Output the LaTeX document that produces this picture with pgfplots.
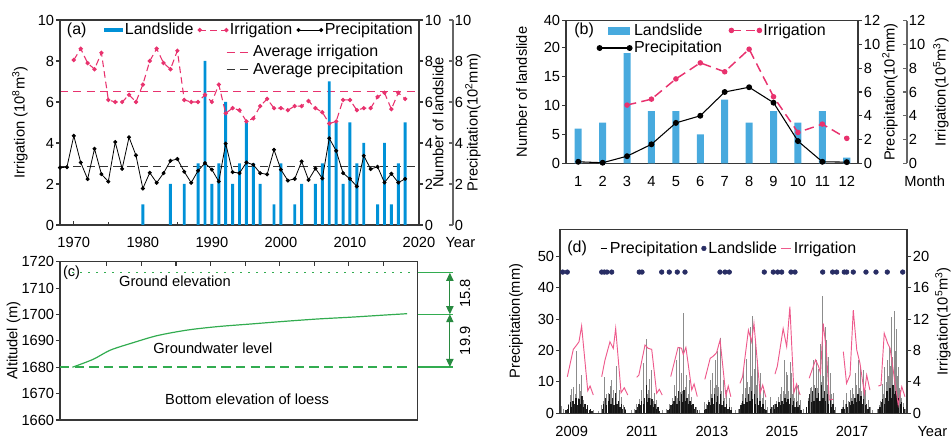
\documentclass[border=0pt]{standalone}
\usepackage{fontspec}
\setmainfont{Liberation Sans}
\usepackage{pgfplots}
\pgfplotsset{compat=1.18}
\usetikzlibrary{arrows.meta}

\definecolor{axgray}{RGB}{55,55,55}
\definecolor{lsblue}{RGB}{0,145,215}
\definecolor{lsblue2}{RGB}{72,170,222}
\definecolor{irr}{RGB}{232,50,110}
\definecolor{irrd}{RGB}{238,90,140}
\definecolor{gcol}{RGB}{50,172,80}
\definecolor{navy}{RGB}{40,45,100}

\newcommand{\tfont}{\fontsize{11}{13}\selectfont}
\newcommand{\lfont}{\fontsize{12}{14}\selectfont}

\pgfplotsset{
  base/.style={
    scale only axis, anchor=south west, clip=false,
    /pgf/number format/assume math mode=true,
    /pgf/number format/1000 sep={},
    tick label style={font=\tfont},
    label style={font=\tfont},
    axis line style={draw=axgray, line width=0.8pt},
    tick style={draw=axgray, line width=0.8pt},
    major tick length=3pt, minor tick length=2pt,
    tick align=outside,
    yticklabel style={inner sep=1.2pt},
    xticklabel style={yshift=-3pt},
    legend style={font=\lfont, draw=none, fill=none, inner sep=0pt, nodes={inner sep=1.5pt}},
    legend cell align=left,
  },
  ylab/.style={ylabel style={at={(rel axis cs:#1,0.5)}, anchor=center, rotate=0}},
  ptlegend/.style={legend image code/.code={\draw[##1,mark repeat=1] plot coordinates {(0pt,0pt) (#1,0pt)};}},
  linelegend/.style={legend image code/.code={\draw[##1] (0pt,0pt) -- (#1,0pt);}},
  dotlegend/.style={legend image code/.code={\fill[navy] (1.8pt,0pt) circle (1.75pt);}},
  barAlegend/.style={legend image code/.code={\fill[lsblue] (0pt,-1.6pt) rectangle (14pt,1.6pt);}},
  barBlegend/.style={legend image code/.code={\path (0pt,0pt); \fill[lsblue2] (6.5pt,-2.5pt) rectangle (22.5pt,2.5pt);}},
}

\begin{document}
\begin{tikzpicture}
\path[use as bounding box] (0,0) rectangle (714pt,331.5pt);

% ---------------- (a) ----------------
\begin{axis}[base, at={(45pt,162.75pt)}, width=269.25pt, height=153.75pt,
  xmin=1968, xmax=2020, ymin=0, ymax=10, hide axis,
  legend style={at={(0.462,0.80)}, anchor=west}]
\addplot[irr, line width=0.8pt, dash pattern=on 6pt off 4pt, linelegend=18pt]
  coordinates {(1968,6.5) (2020,6.5)};
\addlegendentry{Average irrigation}
\addplot[black!80, line width=0.8pt, dash pattern=on 6pt off 4pt, linelegend=18pt]
  coordinates {(1968,2.85) (2020,2.85)};
\addlegendentry{Average precipitation}
\end{axis}

\begin{axis}[base, at={(45pt,162.75pt)}, width=269.25pt, height=153.75pt,
  xmin=1968, xmax=2020, ymin=0, ymax=10,
  xtick={1970,1980,...,2020}, minor xtick={1975,1985,...,2015},
  ytick={0,2,...,10}, xtick pos=left, ytick pos=left,
  every major x tick/.append style={yshift=3pt},
  every minor x tick/.append style={yshift=2pt},
  ylabel={Irrigation (10\textsuperscript{8}m\textsuperscript{3})}, ylab=-0.1114,
  legend columns=3,
  legend style={at={(0.1226,0.951)}, anchor=west,
    /tikz/every even column/.append style={column sep=2pt}}]
\addplot[ybar, bar width=2.2pt, fill=lsblue, draw=none, barAlegend]
  coordinates {(1980,1)(1984,2)(1986,2)(1988,3)(1989,8)(1990,2)(1991,3)(1992,6)
  (1993,2)(1994,3)(1995,5)(1996,3)(1997,2)(1999,1)(2000,3)(2002,1)(2003,2)(2005,2)
  (2006,3)(2007,7)(2008,5)(2009,2)(2010,5)(2011,3)(2012,4)(2014,1)(2015,4)(2016,1)
  (2017,3)(2018,5)};
\addlegendentry{Landslide}
\addplot[irr, line width=0.8pt, dash pattern=on 5pt off 3pt, mark=*, mark size=1.2pt,
  mark options={solid}, ptlegend=20pt]
  coordinates {(1970,8.05)(1971,8.6)(1972,7.9)(1973,7.6)(1974,8.4)(1975,6.1)(1976,6.0)
  (1977,6.0)(1978,6.35)(1979,6.0)(1980,6.85)(1981,8.0)(1982,8.6)(1983,7.9)(1984,7.6)
  (1985,8.5)(1986,6.1)(1987,6.0)(1988,6.0)(1989,6.35)(1990,6.0)(1991,6.85)(1992,5.45)
  (1993,5.7)(1994,5.6)(1995,5.05)(1996,5.2)(1997,5.8)(1998,6.15)(1999,5.7)(2000,5.7)
  (2001,5.6)(2002,5.8)(2003,5.8)(2004,6.05)(2005,5.7)(2006,5.5)(2007,4.95)(2008,5.05)
  (2009,6.1)(2010,6.1)(2011,5.6)(2012,5.7)(2013,5.7)(2014,6.25)(2015,6.45)(2016,5.65)
  (2017,6.45)(2018,6.15)};
\addlegendentry{Irrigation}
\addplot[black, line width=0.6pt, mark=*, mark size=1.2pt, ptlegend=17pt]
  coordinates {(1968,2.8)(1969,2.82)(1970,4.35)(1971,3.05)(1972,2.24)(1973,3.72)
  (1974,2.48)(1975,2.12)(1976,4.05)(1977,2.74)(1978,4.28)(1979,3.4)(1980,1.78)
  (1981,2.55)(1982,2.06)(1983,2.53)(1984,3.13)(1985,3.22)(1986,2.6)(1987,2.06)
  (1988,2.65)(1989,3.02)(1990,2.7)(1991,2.12)(1992,3.97)(1993,2.58)(1994,2.53)
  (1995,3.05)(1996,2.94)(1997,2.53)(1998,2.47)(1999,3.67)(2000,2.7)(2001,2.17)
  (2002,2.25)(2003,3.1)(2004,2.2)(2005,2.76)(2006,2.27)(2007,4.23)(2008,3.62)
  (2009,2.53)(2010,2.25)(2011,1.88)(2012,3.38)(2013,2.73)(2014,2.84)(2015,2.07)
  (2016,2.5)(2017,2.07)(2018,2.25)};
\addlegendentry{Precipitation}
\node[anchor=west, font=\lfont, inner sep=0pt] at (axis cs:1968.97,9.51) {(a)};
\node[anchor=north, font=\tfont] at (rel axis cs:1,0) [xshift=31pt, yshift=-6pt] {Year};
\end{axis}

\begin{axis}[base, at={(45pt,162.75pt)}, width=269.25pt, height=153.75pt,
  xmin=1968, xmax=2020, ymin=0, ymax=10,
  axis y line*=right, axis x line=none, ytick pos=right, yticklabel pos=right,
  ytick={0,2,...,10}, ylabel={Number of landslide}, ylab=1.053]
\end{axis}

\begin{axis}[base, at={(314.25pt,162.75pt)}, width=25.5pt, height=153.75pt,
  xmin=0, xmax=1, ymin=0, ymax=10, tick align=inside,
  axis y line*=right, axis x line=none, ytick pos=right, yticklabel pos=right,
  ytick={0,2,...,10},
  axis line style={draw=black!60}, tick style={draw=black!60},
  ylabel={Precipitation(10\textsuperscript{2}mm)}, ylab=1.588]
\end{axis}

% ---------------- (b) ----------------
\begin{axis}[base, at={(424.5pt,209pt)}, width=219pt, height=107pt,
  xmin=0.5, xmax=12.46, ymin=0, ymax=24.6,
  xtick={1,...,12}, ytick={0,5,10,15,20,24.6}, yticklabels={0,5,10,15,20,40},
  xtick pos=left, ytick pos=left,
  every major x tick/.append style={draw=none},
  ylabel={Number of landslide}, ylab=-0.1517]
\addplot[ybar, bar width=5.3pt, fill=lsblue2, draw=none]
  coordinates {(1,6)(2,7)(3,19)(4,9)(5,9)(6,5)(7,11)(8,7)(9,9)(10,7)(11,9)(12,1)};
\node[anchor=west, font=\lfont, inner sep=0pt] at (axis cs:0.83,23.0) {(b)};
\node[anchor=north, font=\tfont] at (rel axis cs:1,0) [xshift=50pt, yshift=-6pt] {Month};
\end{axis}

\begin{axis}[base, at={(424.5pt,209pt)}, width=219pt, height=107pt,
  xmin=0.5, xmax=12.46, ymin=0, ymax=12,
  axis y line*=right, axis x line=none, ytick pos=right, yticklabel pos=right,
  ytick={0,2,...,12},
  ylabel={Precipitation(10\textsuperscript{2}mm)}, ylab=1.1096,
  legend columns=2,
  legend style={at={(0.106,0.995)}, anchor=north west,
    /tikz/every even column/.append style={column sep=4pt}}]
\addlegendimage{barBlegend}
\addlegendentry{Landslide}
\addplot[irr, line width=1.1pt, dash pattern=on 7pt off 4pt, mark=*, mark size=1.5pt,
  mark options={solid}, ptlegend=21pt]
  coordinates {(3,4.9)(4,5.4)(5,7.1)(6,8.45)(7,7.7)(8,9.6)(9,5.6)(10,2.6)(11,3.3)(12,2.1)};
\addlegendentry{Irrigation}
\addplot[black, line width=0.8pt, mark=*, mark size=1.8pt, ptlegend=22.5pt]
  coordinates {(1,0.13)(2,0.05)(3,0.6)(4,1.6)(5,3.4)(6,4.0)(7,6.0)(8,6.4)(9,5.1)
  (10,1.87)(11,0.13)(12,0.1)};
\addlegendentry{Precipitation}
\end{axis}

\begin{axis}[base, at={(643.5pt,209pt)}, width=36.75pt, height=107pt,
  xmin=0, xmax=1, ymin=0, ymax=12, tick align=inside,
  axis y line*=right, axis x line=none, ytick pos=right, yticklabel pos=right,
  ytick={0,2,...,12},
  axis line style={draw=black!60}, tick style={draw=black!60},
  ylabel={Irrigation(10\textsuperscript{5}m\textsuperscript{3})}, ylab=1.694]
\end{axis}

% ---------------- (c) ----------------
\begin{axis}[base, at={(45pt,16.5pt)}, width=268.3pt, height=118.7pt,
  xmin=-0.36, xmax=10, ymin=1660, ymax=1720,
  xtick={1,...,9}, xticklabels={}, xtick pos=right,
  every major x tick/.append style={yshift=-3pt},
  ytick={1660,1670,...,1720}, ytick pos=left,
  ylabel={Altitudel (m)}, ylab=-0.1300]
\addplot[gcol, line width=1pt, dash pattern=on 1.5pt off 4.5pt]
  coordinates {(0,1715.8) (9.88,1715.8)};
\addplot[gcol, line width=0.8pt, dash pattern=on 7pt off 4pt]
  coordinates {(-0.36,1680.1) (9.69,1680.1)};
\addplot[gcol, line width=0.9pt, smooth]
  coordinates {(0,1680.0)(0.6,1683)(1.1,1686.5)(1.78,1689.4)(2.46,1692)(3.33,1694.1)
  (4.2,1695.4)(5.17,1696.4)(6.14,1697.4)(7.11,1698.3)(8.09,1699.0)(9.06,1699.8)(9.69,1700.3)};
\addplot[gcol, line width=0.8pt] coordinates {(10,1715.8) (11.03,1715.8)};
\addplot[gcol, line width=0.8pt] coordinates {(10,1700.1) (11.03,1700.1)};
\addplot[gcol, line width=0.8pt] coordinates {(10,1680.1) (11.03,1680.1)};
\addplot[gcol!80!black, line width=0.8pt,
  {Triangle[length=6pt,width=5.5pt]}-{Triangle[length=6pt,width=5.5pt]}]
  coordinates {(10.93,1715.8) (10.93,1700.1)};
\addplot[gcol!80!black, line width=0.8pt,
  {Triangle[length=6pt,width=5.5pt]}-{Triangle[length=6pt,width=5.5pt]}]
  coordinates {(10.93,1700.1) (10.93,1680.1)};
\node[font=\tfont, rotate=90] at (axis cs:11.37,1708) {15.8};
\node[font=\tfont, rotate=90] at (axis cs:11.37,1690) {19.9};
\node[anchor=west, font=\tfont, inner sep=0pt] at (axis cs:-0.28,1715.7) {(c)};
\node[font=\tfont] at (axis cs:2.97,1712.7) {Ground elevation};
\node[font=\tfont] at (axis cs:4.07,1687.3) {Groundwater level};
\node[font=\tfont] at (axis cs:5.06,1668) {Bottom elevation of loess};
\end{axis}

% ---------------- (d) ----------------
\begin{axis}[base, at={(420pt,21.5pt)}, width=260.25pt, height=138.2pt,
  xmin=-4, xmax=114.8, ymin=0, ymax=58.7,
  xtick={0,24,48,72,96}, xticklabels={2009,2011,2013,2015,2017},
  xtick pos=left, ytick pos=left, every major x tick/.append style={draw=none},
  ytick={0,10,...,50}, ylabel={Precipitation(mm)}, ylab=-0.1268]
% daily precipitation, larger events
\addplot[ycomb, black, opacity=0.45, line width=0.55pt]
  coordinates {(-3.6,2.2)(-2.9,1.5)(-1.2,3)(-0.6,5.8)(0,7.6)(0.56,8.5)(1.1,6)(1.7,20)
  (2.2,5)(2.6,9.5)(3.0,7)(3.4,12.2)(4.0,4.2)(4.6,3)(5.3,2)(6.5,1.5)(7.5,1)(9.0,0.8)
  (10.2,2.5)(10.8,4)(11.3,11.5)(11.8,6)(12.5,6.4)(13.0,4.5)(13.4,8.7)(13.7,10.6)(14.2,7.4)
  (14.8,5)(15.2,15.1)(15.9,4)(16.3,7.4)(17.1,5.3)(17.6,2.5)(18.5,1.5)(20.5,1.0)
  (21.5,1.5)(22.3,3)(23.0,4.5)(23.9,7.4)(24.4,5)(24.7,16)(25.4,23.8)(25.8,6)(26.2,7.4)
  (26.6,11)(27.0,5)(27.4,13.8)(27.9,4)(28.2,6.4)(29.1,4.2)(29.8,2)(31,1)
  (32.5,1.5)(33.5,3)(34.3,5)(35.1,9)(35.9,17)(36.3,5)(36.7,21)(37.1,6.9)(37.4,12.7)
  (37.8,7)(38.2,32)(38.8,8.5)(39.4,12.2)(39.9,6)(40.3,10.6)(40.8,4)(41.1,5.3)(41.8,3)
  (42.8,2)(43.8,1.2)(45.4,3.7)
  (46.2,3)(46.8,4.2)(47.4,10.6)(47.9,6)(48.3,12.7)(48.7,8)(49.1,17)(49.5,9)(49.9,20)
  (50.2,8.5)(50.8,24)(51.3,7)(51.9,10.6)(52.4,5)(53.1,7.4)(54.0,4.8)(54.8,2)(56,1)
  (57,1.5)(58,3.2)(58.5,6)(58.9,13.8)(59.4,8)(59.9,17.2)(60.3,10)(60.7,8.5)(61.1,27.6)
  (61.5,12)(62.0,31)(62.4,14)(62.8,22.3)(63.2,9)(63.7,17)(64.2,8)(64.7,12.7)(65.2,5)
  (65.6,7.4)(66.2,4.2)(67,2)
  (67.9,5.3)(68.6,2)(69.3,3)(70.0,4)(70.7,5.3)(71.3,6)(71.9,8.5)(72.4,7)(72.8,17)
  (73.1,6)(73.4,13.1)(73.8,12.2)(74.2,7)(74.7,16.5)(75.3,12.7)(75.7,6)(76.0,10)(76.4,5)
  (76.8,9)(77.2,4)(77.6,9)(78.4,4.2)(79.2,1.5)
  (80.5,2)(81.1,5)(81.6,8)(82.1,8.5)(82.7,17)(83.2,9)(83.8,17)(84.2,8)(84.6,14)(85.0,22)
  (85.5,10)(85.9,37.4)(86.3,12)(86.7,27.6)(87.1,23.3)(87.5,9)(87.9,18)(88.4,12.7)
  (88.9,6)(89.6,6.4)(90.4,2)
  (92.5,2)(93.0,4.2)(93.6,3)(94.1,6.4)(94.7,4)(95.3,7.4)(95.8,5)(96.2,8)(96.6,6)(97.0,12.7)
  (97.5,9)(98.1,17)(98.5,8)(98.9,14.8)(99.3,7)(99.8,13.8)(100.3,6)(100.7,7.4)(101.5,4.2)
  (102.2,2)(103,1)
  (104.5,1.5)(105.2,2.5)(105.8,4)(106.4,9.5)(106.8,6)(107.2,14.8)(107.6,10)(108.0,17)
  (108.4,12)(108.7,21)(109.1,15)(109.5,30.8)(109.9,18)(110.3,32.7)(110.7,20)(111.2,27)
  (111.5,12)(111.8,14.8)(112.2,8)(112.6,7.4)(113.0,5)(113.5,3.2)(114.2,1.5)};
% daily precipitation, dense small events
\addplot[ycomb, black, opacity=0.85, line width=1pt]
  coordinates {(-2.0,1)(-1.5,1.5)(-1.0,2.5)(-0.5,3.5)(0.0,2)(0.5,4)(1.0,3)(1.5,5)(2.0,2.5)
  (2.5,4.5)(3.0,3)(3.5,5.5)(4.0,2)(4.5,3)(5.0,1.5)(5.5,2.5)(6.0,1)(6.5,1.5)(7.0,0.8)
  (10.5,1.5)(11.0,3)(11.5,5)(12.0,2.5)(12.5,4)(13.0,6)(13.5,3)(14.0,5)(14.5,2.5)(15.0,6.5)
  (15.5,3)(16.0,4)(16.5,2)(17.0,3)(17.5,1.5)(18.0,2)(18.5,1)
  (22.0,1)(22.5,2)(23.0,3)(23.5,2.5)(24.0,4)(24.5,3)(25.0,5)(25.5,9)(26.0,3.5)(26.5,5)
  (27.0,2.5)(27.5,4.5)(28.0,2)(28.5,3)(29.0,1.5)(29.5,2)(30.0,0.8)
  (33.0,1)(33.5,1.5)(34.0,2.5)(34.5,3)(35.0,4)(35.5,5.5)(36.0,3)(36.5,7)(37.0,4)(37.5,6)
  (38.0,3.5)(38.5,7.5)(39.0,4)(39.5,5)(40.0,3)(40.5,4)(41.0,2.5)(41.5,3)(42.0,1.5)
  (42.5,2)(43.0,1)
  (45.5,1)(46.0,1.5)(46.5,2.5)(47.0,3.5)(47.5,2.5)(48.0,5)(48.5,3)(49.0,6)(49.5,3.5)
  (50.0,5.5)(50.5,3)(51.0,6)(51.5,2.5)(52.0,4)(52.5,2)(53.0,3)(53.5,1.5)(54.0,2)(54.5,1)
  (57.5,1.5)(58.0,2.5)(58.5,4)(59.0,3)(59.5,5)(60.0,3.5)(60.5,6)(61.0,4)(61.5,7)(62.0,4.5)
  (62.5,6)(63.0,3)(63.5,5)(64.0,2.5)(64.5,4)(65.0,2)(65.5,3)(66.0,1.5)(66.5,1)
  (68.0,1.5)(68.5,2)(69.0,2.5)(69.5,1.5)(70.0,3)(70.5,2)(71.0,3.5)(71.5,2.5)(72.0,4)
  (72.5,3)(73.0,5)(73.5,3.5)(74.0,4.5)(74.5,3)(75.0,5)(75.5,2.5)(76.0,4)(76.5,2)(77.0,3.5)
  (77.5,2)(78.0,2.5)(78.5,1)
  (80.5,2)(81.0,4)(81.5,6)(82.0,3.5)(82.5,7)(83.0,4)(83.5,8)(84.0,5)(84.5,6.5)(85.0,4)
  (85.5,9)(86.0,5)(86.5,7)(87.0,4)(87.5,6)(88.0,3)(88.5,4.5)(89.0,2)(89.5,3)(90.0,1)
  (92.5,1.5)(93.0,2)(93.5,1.5)(94.0,3)(94.5,2)(95.0,3.5)(95.5,2.5)(96.0,4)(96.5,3)(97.0,5)
  (97.5,3.5)(98.0,6)(98.5,4)(99.0,5.5)(99.5,3)(100.0,4.5)(100.5,2.5)(101.0,3)(101.5,1.5)
  (102.0,2)
  (105.0,1.5)(105.5,2)(106.0,3.5)(106.5,4.5)(107.0,3)(107.5,5)(108.0,7)(108.5,4)(109.0,8)
  (109.5,5)(110.0,9)(110.5,6)(111.0,7)(111.5,4)(112.0,5)(112.5,3)(113.0,3.5)(113.5,2)
  (114.0,1.5)};
\addplot[only marks, mark=*, mark size=1.75pt, navy]
  coordinates {(-3.08,45)(-1.51,45)(10.27,45)(11.16,45)(12.08,45)(13.69,45)(23.14,45)
  (24.07,45)(30.81,45)(33.41,45)(36.15,45)(38.79,45)(50.77,45)(52.48,45)(53.95,45)
  (65.94,45)(69.02,45)(70.52,45)(71.89,45)(75.08,45)(76.45,45)(85.93,45)(89.35,45)
  (90.72,45)(93.32,45)(94.15,45)(96.41,45)(100.75,45)(104.18,45)(108.05,45)(113.32,45)};
\node[anchor=west, font=\lfont, inner sep=0pt] at (axis cs:-1.6,52.5) {(d)};
\node[anchor=north, font=\tfont] at (rel axis cs:1,0) [xshift=19pt, yshift=-6pt] {Year};
\end{axis}

\begin{axis}[base, at={(420pt,21.5pt)}, width=260.25pt, height=138.2pt,
  xmin=-4, xmax=114.8, ymin=0, ymax=23.48, unbounded coords=jump,
  axis y line*=right, axis x line=none, ytick pos=right, yticklabel pos=right,
  ytick={0,4,...,20},
  ylabel={Irrigation(10\textsuperscript{5}m\textsuperscript{3})}, ylab=1.1037,
  legend columns=3,
  legend style={at={(0.115,0.895)}, anchor=west,
    /tikz/every even column/.append style={column sep=1pt}}]
\addlegendimage{black, line width=0.8pt, linelegend=5pt}
\addlegendentry{Precipitation}
\addlegendimage{dotlegend}
\addlegendentry{Landslide}
\addplot[irrd, line width=0.7pt, linelegend=8pt]
  coordinates {(-1.5,4.66)(0.55,8.15)(1.7,8.7)(2.5,9.12)(3.4,11.12)(5.5,2.88)(6.3,3.48)(7.4,2.33)
  (8.5,nan)
  (10.27,4.66)(11.4,6.79)(13.1,9.12)(14.24,8.28)(15.06,10.83)(16.9,2.62)(18.0,3.26)(19.2,2.33)
  (20.5,nan)
  (22.25,4.58)(23.0,4.88)(25.1,8.7)(26.2,8.28)(27.4,8.15)(29.1,2.55)(30.0,3.06)(31.0,2.33)
  (32.5,nan)
  (33.9,4.68)(36.4,8.4)(37.6,8.3)(38.2,7.5)(39.1,8.4)(41.1,2.98)(41.9,3.74)(43.0,2.13)
  (44.5,nan)
  (45.6,4.33)(47.4,7.0)(48.5,7.3)(49.6,7.72)(50.8,9.34)(52.8,2.2)(53.6,3.48)(54.5,2.11)
  (56.0,nan)
  (57.6,3.82)(58.5,4.66)(60.5,10.6)(61.6,9.12)(62.4,11.46)(64.5,2.55)(65.4,3.6)(66.5,2.04)
  (68.0,nan)
  (69.6,5.0)(70.4,6.0)(72.4,10.8)(73.6,8.5)(74.7,13.6)(76.1,2.64)(77.0,3.74)(78.2,2.34)
  (79.5,nan)
  (81.3,4.47)(82.7,5.96)(83.5,6.8)(84.5,6.0)(85.2,5.1)(86.1,11.46)(87.2,8.0)(88.2,1.7)(89.4,1.79)
  (91.0,nan)
  (93.0,7.85)(94.1,3.82)(95.3,4.88)(96.4,13.16)(97.6,8.06)(98.7,6.37)(100.2,2.55)(101.0,4.88)(102.1,2.97)
  (103.5,nan)
  (105.0,3.48)(105.9,3.6)(107.0,10.2)(108.2,8.9)(109.0,8.28)(111.8,1.06)(113.0,3.4)(114.1,2.12)};
\addlegendentry{Irrigation}
\end{axis}
\end{tikzpicture}
\end{document}
